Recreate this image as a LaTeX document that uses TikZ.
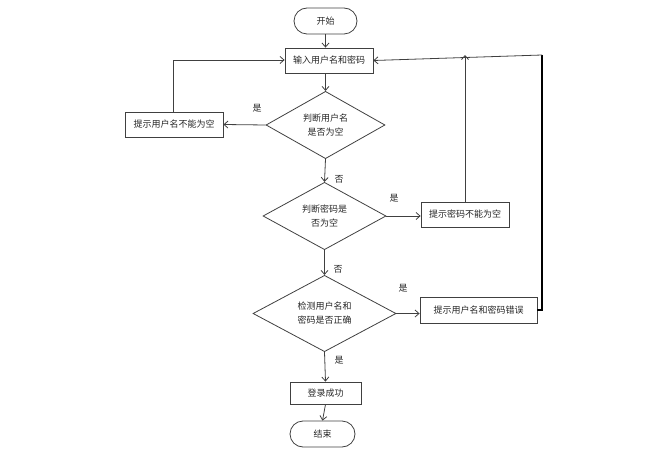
\documentclass[tikz,border=0pt]{standalone}
\usepackage{fontspec}
\setmainfont{Noto Sans CJK SC}
\usetikzlibrary{shapes.geometric,shapes.misc,arrows.meta}
\begin{document}
\begin{tikzpicture}[x=1pt,y=-1pt,
  font=\fontsize{9}{14}\selectfont,
  every node/.style={text=black!85},
  proc/.style={draw=black!75,line width=0.8pt,rectangle,minimum height=25pt,inner sep=0pt},
  term/.style={draw=black!75,line width=0.8pt,rounded rectangle,minimum height=26pt,inner sep=0pt},
  dec/.style={draw=black!75,line width=0.8pt,diamond,inner sep=0pt,align=center},
  flow/.style={draw=black!75,line width=0.8pt,-{Straight Barb[length=4pt,width=7pt]}},
  loop/.style={draw=black,line width=1.1pt},
  lab/.style={inner sep=0pt}]
\useasboundingbox (0,0) rectangle (660,454);
\node[term,minimum width=63pt] (start) at (325.5,21) {开始};
\node[proc,minimum width=88pt] (input) at (329,60.5) {输入用户名和密码};
\node[dec,minimum width=119pt,minimum height=64pt] (d1) at (325.5,125) {判断用户名\\是否为空};
\node[proc,minimum width=98pt] (b1) at (174,124.5) {提示用户名不能为空};
\node[dec,minimum width=123pt,minimum height=66pt] (d2) at (324.5,216) {判断密码是\\否为空};
\node[proc,minimum width=88pt] (b2) at (465,214.5) {提示密码不能为空};
\node[dec,minimum width=143pt,minimum height=67pt] (d3) at (324.5,313.5) {检测用户名和\\密码是否正确};
\node[proc,minimum width=117pt,minimum height=26pt] (b3) at (478.5,310) {提示用户名和密码错误};
\node[proc,minimum width=71pt,minimum height=22pt] (ok) at (325.5,393) {登录成功};
\node[term,minimum width=65pt] (end) at (322.5,434) {结束};
\coordinate (c1) at (173,60);
\coordinate (c2) at (465,55);
\coordinate (r1) at (542,310);
\coordinate (r2) at (542,55);
\draw[flow] (start.south) -- (start.south |- input.north);
\draw[flow] (d1.north |- input.south) -- (d1.north);
\draw[flow] (d1.west) -- (b1.east);
\draw[flow] (b1.north -| c1) -- (c1) -- (input.west |- c1);
\draw[flow] (d1.south) -- (d2.north);
\draw[flow] (d2.east) -- (b2.west |- d2.east);
\draw[flow] (b2.north -| c2) -- (c2);
\draw[flow] (d2.south) -- (d3.north);
\draw[flow] (d3.east) -- (b3.west |- d3.east);
\draw[loop] (b3.east |- r1) -- (r1) -- (r2);
\draw[flow] (r2) -- (input.east);
\draw[flow] (d3.south) -- (ok.north);
\draw[flow] (ok.south) -- (end.north);
\node[lab] (y1) at (257,108) {是};
\node[lab] (n1) at (339,179) {否};
\node[lab] (y2) at (394,198) {是};
\node[lab] (n2) at (338,269) {否};
\node[lab] (y3) at (403,288) {是};
\node[lab] (y4) at (339,360) {是};
\end{tikzpicture}
\end{document}
